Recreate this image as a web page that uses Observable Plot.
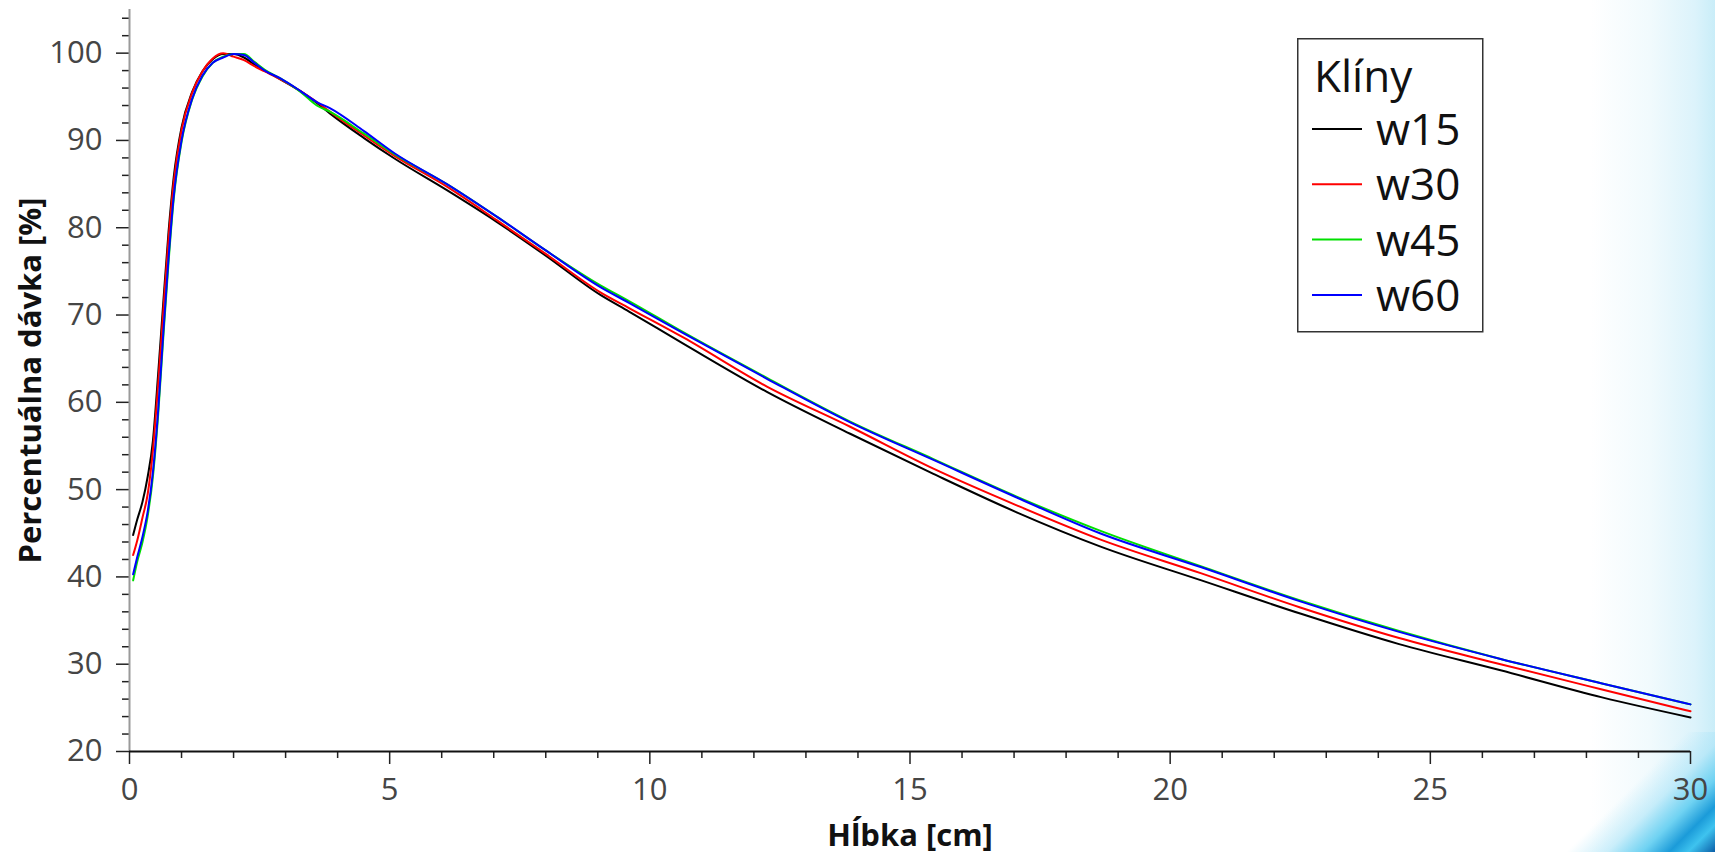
<!DOCTYPE html>
<html>
<head>
<meta charset="utf-8">
<script src="https://cdn.jsdelivr.net/npm/d3@7"></script>
<script src="https://cdn.jsdelivr.net/npm/@observablehq/plot@0.6"></script>
<style>
  html, body { margin: 0; padding: 0; }
  body {
    width: 1715px; height: 852px; position: relative; overflow: hidden;
    background: linear-gradient(to right, #ffffff 0px, #ffffff 1590px, #f1fafd 1650px, #dcf3fb 1695px, #c9edf8 1715px);
    font-family: "Open Sans", sans-serif;
  }
  #corner {
    position: absolute; right: 0; bottom: 0; width: 150px; height: 120px;
    background: linear-gradient(315deg, #0b5fa8 0%, #3ec3ef 10%, #1b9bd9 17%, #6fd2f2 27%, rgba(170,228,248,0.6) 40%, rgba(255,255,255,0) 55%);
  }
  #chart { position: absolute; left: 0; top: 0; }
  #legend { position: absolute; left: 1297px; top: 38px; }
</style>
</head>
<body>
<div id="corner"></div>
<div id="chart"></div>
<div id="legend"></div>
<script>
// ---- data ----
const depth = [0.07, 0.15, 0.25, 0.35, 0.45, 0.55, 0.65, 0.75, 0.85, 1.0, 1.2, 1.4, 1.6, 1.8, 2.0, 2.2, 2.4, 2.6, 2.9, 3.3, 3.6, 3.85, 4.5, 5.1, 6.1, 7.05, 8.0, 9.05, 9.6, 10.65, 12.25, 13.85, 15.45, 17.05, 18.65, 20.6, 22.5, 24.4, 26.35, 28.3, 30.0];
const w15 = [44.8, 46.6, 48.6, 51.5, 55.6, 63.2, 71.5, 79.5, 85.8, 91.5, 95.5, 97.9, 99.3, 99.9, 99.9, 99.5, 98.7, 98.0, 97.0, 95.6, 94.3, 93.1, 90.3, 87.9, 84.3, 80.7, 76.8, 72.3, 70.4, 66.7, 61.2, 56.4, 51.8, 47.4, 43.5, 39.6, 35.8, 32.3, 29.3, 26.2, 23.9];
const w30 = [42.5, 44.2, 46.8, 49.5, 54.5, 62.0, 70.5, 78.7, 85.2, 91.2, 95.4, 97.9, 99.4, 100.0, 99.6, 99.2, 98.5, 97.9, 97.0, 95.6, 94.4, 93.3, 90.6, 88.2, 84.7, 80.9, 77.0, 72.6, 70.8, 67.4, 61.8, 57.2, 52.4, 48.2, 44.3, 40.4, 36.5, 33.0, 30.0, 27.1, 24.6];
const w45 = [39.6, 41.8, 44.0, 47.0, 51.5, 58.5, 67.5, 76.0, 83.3, 89.8, 94.6, 97.3, 98.9, 99.6, 99.9, 99.9, 99.0, 98.1, 97.1, 95.5, 94.0, 93.3, 90.8, 88.4, 85.0, 81.3, 77.4, 73.4, 71.6, 68.0, 62.8, 57.8, 53.5, 49.2, 45.3, 41.2, 37.3, 33.8, 30.6, 27.8, 25.4];
const w60 = [40.3, 42.3, 44.6, 47.5, 52.0, 59.0, 68.0, 76.5, 83.6, 90.0, 94.7, 97.4, 98.9, 99.5, 99.9, 99.8, 98.9, 98.0, 97.1, 95.6, 94.4, 93.7, 91.1, 88.5, 85.0, 81.3, 77.4, 73.2, 71.4, 67.9, 62.7, 57.7, 53.4, 49.1, 45.0, 41.1, 37.2, 33.7, 30.6, 27.8, 25.4];
const seriesNames = ["w15", "w30", "w45", "w60"];
const seriesColors = ["#000000", "#ff0000", "#00e000", "#0000ff"];
const legendTitle = "Klíny";
const xLabel = "Hĺbka [cm]";
const yLabel = "Percentuálna dávka [%]";
const xMajor = [0, 5, 10, 15, 20, 25, 30];
const xMinor = d3.range(0, 31, 1).filter(v => v % 5 !== 0);
const yMajor = [20, 30, 40, 50, 60, 70, 80, 90, 100];
const yMinor = d3.range(20, 105, 2).filter(v => v % 10 !== 0);

const values = [w15, w30, w45, w60];
const rows = seriesNames.flatMap((s, i) => depth.map((d, j) => ({depth: d, dose: values[i][j], wedge: s})));

const tickFont = {fontSize: 31, fill: "#454545", stroke: "#222", strokeWidth: 1.5, label: null};

const chart = Plot.plot({
  width: 1715,
  height: 852,
  marginLeft: 129,
  marginRight: 25,
  marginTop: 9,
  marginBottom: 101,
  style: {background: "transparent", fontFamily: "'Open Sans', sans-serif", overflow: "visible"},
  x: {domain: [0, 30], label: null},
  y: {domain: [20, 105], label: null},
  color: {domain: seriesNames, range: seriesColors},
  marks: [
    Plot.axisX(xMinor, {tickSize: 7, tickFormat: () => "", stroke: "#222", strokeWidth: 1.5, label: null}),
    Plot.axisX(xMajor, {tickSize: 13, tickPadding: 13, ...tickFont}),
    Plot.axisY(yMinor, {tickSize: 7, tickFormat: () => "", stroke: "#222", strokeWidth: 1.5, label: null}),
    Plot.axisY(yMajor, {tickSize: 13, tickPadding: 14, ...tickFont}),
    Plot.ruleX([0], {stroke: "#9a9a9a", strokeWidth: 2}),
    Plot.ruleY([20], {stroke: "#111", strokeWidth: 2}),
    Plot.line(rows, {x: "depth", y: "dose", z: "wedge", stroke: "wedge", strokeWidth: 2, curve: "monotone-x"}),
    Plot.text([xLabel], {frameAnchor: "bottom", dy: 94, textAnchor: "middle", fontSize: 31, fontWeight: "bold", fill: "#111"}),
    Plot.text([yLabel], {frameAnchor: "left", dx: -98, rotate: -90, textAnchor: "middle", fontSize: 31, fontWeight: "bold", fill: "#111"})
  ]
});
document.getElementById("chart").appendChild(chart);

// legend box
const lg = d3.select("#legend").append("svg")
  .attr("width", 188).attr("height", 296)
  .style("font-family", "'Open Sans', sans-serif");
lg.append("rect").attr("x", 0.75).attr("y", 0.75).attr("width", 185).attr("height", 293)
  .attr("fill", "white").attr("stroke", "#333").attr("stroke-width", 1.5);
lg.append("text").attr("x", 17).attr("y", 54).attr("font-size", 44).attr("fill", "#111").text(legendTitle);
seriesNames.forEach((s, i) => {
  const cy = 91 + i * 55.3;
  lg.append("line").attr("x1", 15).attr("x2", 65).attr("y1", cy).attr("y2", cy)
    .attr("stroke", seriesColors[i]).attr("stroke-width", 2);
  lg.append("text").attr("x", 79).attr("y", cy + 16).attr("font-size", 44).attr("fill", "#111").text(s);
});
</script>
</body>
</html>
